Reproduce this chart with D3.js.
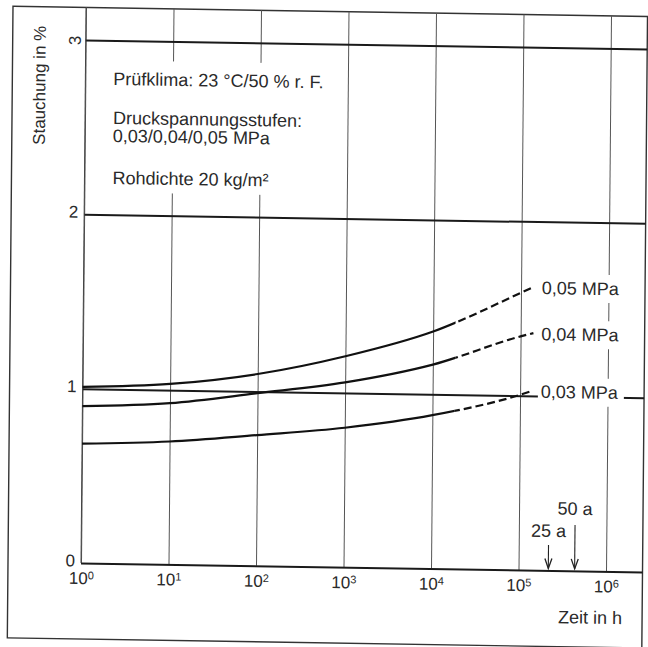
<!DOCTYPE html>
<html>

<head>
  <meta charset="UTF-8">
  <title>Stauchung über Zeit</title>
  <script src="https://d3js.org/d3.v7.min.js"></script>
  <style>
    body {
      margin: 0;
      background: #fff;
    }

    svg text {
      font-family: "Liberation Sans", Arial, sans-serif;
      fill: #2a2a2a;
    }

    .grid-x line {
      stroke: #555;
      stroke-width: 1;
    }

    .grid-y line {
      stroke: #1a1a1a;
      stroke-width: 2;
    }

    .curve {
      fill: none;
      stroke: #111;
      stroke-width: 2.2;
    }

    .curve.dashed {
      stroke-dasharray: 8 4;
    }
  </style>
</head>

<body>
  <div id="chart"></div>
  <script>
    // Data
    var zeit = [1, 10, 100, 1000, 10000, 100000, 140000];   // h
    var zeitGestrichelt = 18000;                              // dashed from here on
    var werte005 = [1.01, 1.035, 1.10, 1.21, 1.36, 1.59, 1.625];
    var werte004 = [0.90, 0.925, 0.99, 1.06, 1.17, 1.34, 1.36];
    var werte003 = [0.685, 0.705, 0.75, 0.80, 0.88, 1.005, 1.03];
    var serienNamen = ["0,05 MPa", "0,04 MPa", "0,03 MPa"];

    var xTicks = [1, 10, 100, 1000, 10000, 100000, 1000000];
    var xExponenten = ["0", "1", "2", "3", "4", "5", "6"];
    var yTicks = [0, 1, 2, 3];

    var markerStunden = [219000, 438000];   // 25 a, 50 a
    var markerNamen = ["25 a", "50 a"];

    var infoZeilen = [
      "Prüfklima: 23 °C/50 % r. F.",
      "Druckspannungsstufen:",
      "0,03/0,04/0,05 MPa",
      "Rohdichte 20 kg/m²"
    ];

    var W = 648, H = 647;
    var plotL = 81, plotR = 642.5, plotT = 7.5, plotB = 563;

    var svg = d3.select("#chart").append("svg")
      .attr("width", W)
      .attr("height", H);

    svg.append("rect").attr("width", W).attr("height", H).attr("fill", "#fff");

    // the scan is slightly skewed, mimic that
    var g = svg.append("g")
      .attr("transform", "translate(81,563) matrix(1,0.016,-0.009,1,0,0) translate(-81,-563)");

    var xScale = d3.scaleLog()
      .domain([1, 1e6])
      .range([81, 606]);

    var yScale = d3.scaleLinear()
      .domain([0, 3])
      .range([563, 40]);

    // outer frame
    g.append("rect")
      .attr("x", 8).attr("y", plotT)
      .attr("width", plotR - 8).attr("height", 639 - plotT)
      .attr("fill", "none")
      .attr("stroke", "#333")
      .attr("stroke-width", 1.4);

    // vertical grid + x tick labels
    var xAxis = g.append("g")
      .attr("class", "grid-x")
      .attr("transform", "translate(0," + plotB + ")")
      .call(d3.axisBottom(xScale)
        .tickValues(xTicks)
        .tickSize(-(plotB - plotT))
        .tickFormat(""));
    xAxis.select(".domain").remove();
    xAxis.selectAll(".tick text")
      .attr("y", 21)
      .attr("dy", null)
      .attr("font-size", 17)
      .attr("text-anchor", "middle")
      .each(function (d, i) {
        var t = d3.select(this);
        t.append("tspan").text("10");
        t.append("tspan")
          .attr("dy", "-0.45em")
          .attr("font-size", 11)
          .text(xExponenten[i]);
      });

    // horizontal grid + y tick labels
    var yAxis = g.append("g")
      .attr("class", "grid-y")
      .attr("transform", "translate(" + plotL + ",0)")
      .call(d3.axisLeft(yScale)
        .tickValues(yTicks)
        .tickSize(-(plotR - plotL))
        .tickPadding(6)
        .tickFormat(d3.format("d")));
    yAxis.select(".domain").remove();
    yAxis.selectAll(".tick text")
      .attr("font-size", 17)
      .attr("dy", null)
      .attr("y", 3)
      .filter(function (d) { return d === 3; })
      .attr("x", 0).attr("y", 0)
      .attr("text-anchor", "middle")
      .attr("transform", "translate(-5,0) rotate(-90)");

    // y axis line
    g.append("line")
      .attr("x1", plotL).attr("x2", plotL)
      .attr("y1", plotT).attr("y2", plotB)
      .attr("stroke", "#444")
      .attr("stroke-width", 1);

    // info text block
    g.append("rect")
      .attr("x", 93).attr("y", 60)
      .attr("width", 243).attr("height", 132)
      .attr("fill", "#fff");
    var infoY = [84.5, 123.5, 141.5, 183.5];
    infoZeilen.forEach(function (z, i) {
      g.append("text")
        .attr("x", 109)
        .attr("y", infoY[i])
        .attr("font-size", 18)
        .text(z);
    });

    // curves: solid part and dashed part via clip
    var defs = svg.append("defs");
    defs.append("clipPath").attr("id", "clipSolid")
      .append("rect")
      .attr("x", 0).attr("y", 0)
      .attr("width", xScale(zeitGestrichelt)).attr("height", H);
    defs.append("clipPath").attr("id", "clipDash")
      .append("rect")
      .attr("x", xScale(zeitGestrichelt)).attr("y", 0)
      .attr("width", W).attr("height", H);

    var line = d3.line()
      .x(function (d) { return xScale(d[0]); })
      .y(function (d) { return yScale(d[1]); })
      .curve(d3.curveMonotoneX);

    var serien = [werte005, werte004, werte003];
    serien.forEach(function (werte, i) {
      var pts = zeit.map(function (t, j) { return [t, werte[j]]; });
      g.append("path")
        .attr("class", "curve")
        .attr("clip-path", "url(#clipSolid)")
        .attr("d", line(pts));
      g.append("path")
        .attr("class", "curve dashed")
        .attr("clip-path", "url(#clipDash)")
        .attr("d", line(pts));

      var last = pts[pts.length - 1];
      var lx = xScale(last[0]) + 8;
      var ly = yScale(last[1]) + 7;
      g.append("rect")
        .attr("x", lx - 3).attr("y", ly - 20)
        .attr("width", 86).attr("height", 28)
        .attr("fill", "#fff");
      g.append("text")
        .attr("x", lx)
        .attr("y", ly)
        .attr("font-size", 18)
        .text(serienNamen[i]);
    });

    // 25 a / 50 a markers
    var markerTop = [537.5, 517];
    var markerTextY = [529.5, 507];
    markerStunden.forEach(function (h, i) {
      var mx = xScale(h);
      g.append("line")
        .attr("x1", mx).attr("x2", mx)
        .attr("y1", markerTop[i]).attr("y2", 561)
        .attr("stroke", "#222")
        .attr("stroke-width", 1.1);
      g.append("path")
        .attr("d", "M" + (mx - 3.5) + ",551 L" + mx + ",561 L" + (mx + 3.5) + ",551")
        .attr("fill", "none")
        .attr("stroke", "#222")
        .attr("stroke-width", 1.3);
      g.append("text")
        .attr("x", mx)
        .attr("y", markerTextY[i])
        .attr("font-size", 18)
        .attr("text-anchor", "middle")
        .text(markerNamen[i]);
    });

    // axis titles
    g.append("text")
      .attr("font-size", 17)
      .attr("text-anchor", "middle")
      .attr("transform", "translate(41,86) rotate(-90)")
      .text("Stauchung in %");

    g.append("text")
      .attr("x", 558.5)
      .attr("y", 615.5)
      .attr("font-size", 18)
      .text("Zeit in h");
  </script>
</body>

</html>
